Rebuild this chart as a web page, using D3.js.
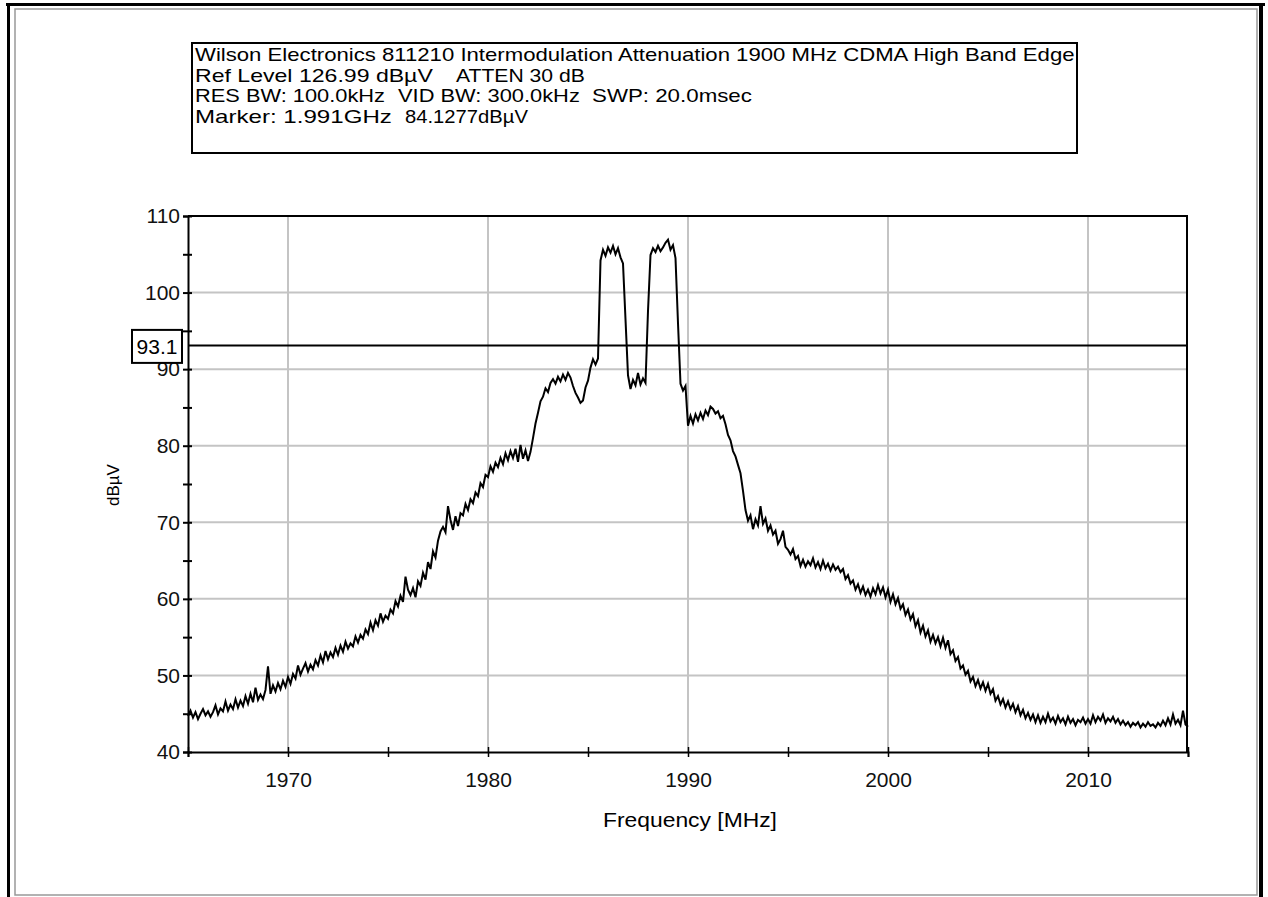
<!DOCTYPE html>
<html>
<head>
<meta charset="utf-8">
<script src="https://cdn.jsdelivr.net/npm/d3@7"></script>
<style>
  body { margin: 0; background: #fff; }
  svg { display: block; font-family: "Liberation Sans", Arial, sans-serif; }
</style>
</head>
<body>
<div id="chart"></div>
<script>
// analyzer header, one list of pieces per line
var header_lines = [
    ["Wilson Electronics 811210 Intermodulation Attenuation 1900 MHz CDMA High Band Edge"],
    ["Ref Level 126.99 dB\u00b5V", "ATTEN 30 dB"],
    ["RES BW: 100.0kHz", "VID BW: 300.0kHz", "SWP: 20.0msec"],
    ["Marker: 1.991GHz", "84.1277dB\u00b5V"]
]

var freq_start = 1965      // MHz, first sweep point
var freq_step = 0.125      // MHz between sweep points (401 point sweep)
var freq_ticks = [1965, 1970, 1975, 1980, 1985, 1990, 1995, 2000, 2005, 2010, 2015]
var level_ticks = [40, 45, 50, 55, 60, 65, 70, 75, 80, 85, 90, 95, 100, 105, 110]
var display_line = 93.1

// trace, dBuV
var level = [
    44.7, 45.4, 44.5, 45.2, 44.3, 45.0, 45.6, 44.8, 45.3, 44.6,
    45.2, 46.1, 44.9, 45.7, 45.3, 46.6, 45.4, 46.2, 45.6, 46.9,
    45.8, 46.7, 46.0, 47.3, 46.3, 47.6, 46.5, 48.4, 46.8, 47.5,
    46.9, 48.1, 51.2, 47.6, 48.7, 47.9, 49.0, 48.2, 49.3, 48.5,
    49.8, 48.9, 50.2, 49.6, 51.3, 50.1, 50.9, 51.6, 50.5, 51.4,
    50.8, 52.0, 51.3, 52.6, 51.7, 53.2, 52.1, 53.0, 52.4, 53.6,
    52.7, 53.9, 53.1, 54.4, 53.5, 54.2, 53.8, 55.1, 54.3, 55.3,
    54.8, 56.0, 55.4, 56.9, 55.9, 57.2, 56.5, 58.1, 57.0, 57.8,
    57.4, 58.6, 58.1, 59.7, 59.0, 60.4, 59.6, 62.9, 61.2, 60.5,
    61.4, 60.2, 62.3, 61.7, 63.4, 62.5, 64.8, 63.9, 66.2, 65.4,
    67.6, 68.8, 69.4, 68.7, 72.1, 70.3, 69.0, 70.8, 69.5, 71.2,
    70.9, 72.4, 71.6, 73.0, 72.5, 73.9, 73.4, 75.1, 74.6, 76.2,
    75.9, 77.3, 76.6, 77.8, 77.2, 78.4, 77.6, 79.0, 78.1, 79.3,
    78.4, 79.6, 77.9, 80.1, 78.3, 79.4, 78.0, 79.2, 81.0, 82.9,
    84.3, 85.8, 86.4, 87.5, 87.0, 88.2, 88.7, 88.1, 89.0, 88.4,
    89.3, 88.6, 89.5, 88.9, 87.8, 86.9, 86.3, 85.6, 85.9, 87.6,
    88.5, 90.2, 91.3, 90.6, 91.4, 104.2, 105.6, 104.8, 105.9, 105.2,
    106.1, 105.0, 105.8, 104.6, 103.8, 96.5, 89.2, 87.4, 88.6, 87.9,
    89.5, 88.0, 88.8, 88.2, 97.6, 104.9, 105.8, 105.3, 106.1, 105.4,
    105.9, 106.5, 106.9, 105.6, 106.2, 104.5, 96.0, 88.1, 87.2, 87.8,
    82.6, 83.9, 82.9, 84.1, 83.3, 84.3, 83.5, 84.6, 84.0, 85.1,
    84.8, 84.2, 84.5, 83.6, 83.9, 82.8, 81.4, 80.7, 79.3, 78.6,
    77.5, 76.4, 74.1, 71.6, 70.2, 70.9, 69.1, 70.4, 69.6, 72.1,
    69.8, 70.5, 68.9, 69.6, 68.4, 68.9, 67.2, 67.8, 68.9, 66.8,
    66.4, 65.8, 66.5, 65.2, 65.6, 64.3, 65.1, 64.2, 64.9, 64.4,
    65.3, 64.1, 64.8, 63.9, 65.0, 64.0, 64.6, 63.7, 64.5, 63.8,
    64.2, 63.5, 63.9, 62.6, 63.1, 62.0, 62.4, 61.2, 61.9, 60.8,
    61.6, 60.5, 61.2, 60.3, 61.4, 60.6, 61.8, 60.7, 61.5, 60.2,
    61.2, 59.6, 60.6, 59.3, 60.1, 58.7, 59.3, 57.9, 58.6, 57.3,
    58.0, 56.4, 57.2, 55.6, 56.5, 55.1, 55.9, 54.4, 55.3, 54.2,
    55.0, 53.8, 54.9, 53.6, 54.6, 52.8, 53.3, 51.9, 52.4, 50.9,
    51.3, 50.1, 50.6, 49.2, 49.8, 48.6, 49.4, 48.3, 49.1, 48.0,
    48.9, 47.6, 48.2, 46.7, 47.3, 46.2, 46.9, 45.8, 46.6, 45.6,
    46.3, 45.2, 46.0, 44.8, 45.5, 44.4, 45.1, 44.2, 44.9, 43.9,
    44.8, 43.8, 44.6, 43.9, 45.0, 44.0, 44.5, 43.7, 44.7, 43.9,
    44.4, 43.6, 44.6, 43.8, 44.3, 43.5, 44.2, 43.9, 44.5, 43.7,
    44.3, 43.7, 44.8, 43.9, 44.6, 44.1, 44.9, 43.8, 44.4, 44.0,
    44.6, 43.8, 44.3, 43.6, 44.1, 43.5, 43.9, 43.3, 43.8, 43.5,
    43.9, 43.2, 43.7, 43.3, 43.9, 43.4, 43.6, 43.2, 43.8, 43.4,
    44.1, 43.5, 44.4, 43.6, 44.9, 43.7, 44.2, 43.5, 45.4, 43.6,
    43.3
]

var W = 1268, H = 897
var plot = { left: 188, right: 1188, top: 216, bottom: 752 }

var svg = d3.select("#chart").append("svg")
    .attr("width", W)
    .attr("height", H)

// stretch a text element sideways so it spans x0..x1 (the source font is wide)
function fit_text(node, x0, x1, y) {
    var w = node.getComputedTextLength()
    d3.select(node)
        .attr("x", 0).attr("y", 0)
        .attr("transform", `translate(${x0}, ${y}) scale(${(x1 - x0) / w}, 1)`)
}

// page frame
svg.append("rect")
    .attr("x", 15).attr("y", 9).attr("width", 1242).attr("height", 886)
    .attr("fill", "none").attr("stroke", "#999").attr("stroke-width", 1.5)
svg.append("line").attr("x1", 6).attr("x2", 1265).attr("y1", 4.5).attr("y2", 4.5)
    .attr("stroke", "#000").attr("stroke-width", 3)
svg.append("line").attr("x1", 8.5).attr("x2", 8.5).attr("y1", 3).attr("y2", H)
    .attr("stroke", "#000").attr("stroke-width", 3)
svg.append("line").attr("x1", 1261).attr("x2", 1261).attr("y1", 3).attr("y2", H)
    .attr("stroke", "#000").attr("stroke-width", 4)

// header box
svg.append("rect")
    .attr("x", 192).attr("y", 43).attr("width", 885).attr("height", 110)
    .attr("fill", "#fff").attr("stroke", "#000").attr("stroke-width", 2)

// left / right edge of each piece of header text
var header_spans = [
    [[195, 1075]],
    [[195, 433], [456, 585]],
    [[195, 385], [398, 580], [592, 752]],
    [[195, 392], [405, 528]]
]
header_lines.forEach(function (pieces, row) {
    svg.append("g").selectAll("text")
        .data(pieces)
        .join("text")
        .attr("font-size", 18)
        .text(function (d) { return d })
        .each(function (d, j) {
            fit_text(this, header_spans[row][j][0], header_spans[row][j][1], 61 + row * 20.7)
        })
})

var x = d3.scaleLinear().domain([1965, 2015]).range([plot.left, plot.right])
var y = d3.scaleLinear().domain([40, 110]).range([plot.bottom, plot.top])

// grid
var grid = svg.append("g").attr("stroke", "#c4c4c4").attr("stroke-width", 2)
grid.selectAll(".vg")
    .data(freq_ticks.filter(function (d) { return d % 10 == 0 && d > 1965 && d < 2015 }))
    .join("line")
    .attr("x1", function (d) { return x(d) }).attr("x2", function (d) { return x(d) })
    .attr("y1", plot.top).attr("y2", plot.bottom)
grid.selectAll(".hg")
    .data(level_ticks.filter(function (d) { return d % 10 == 0 && d > 40 && d < 110 }))
    .join("line")
    .attr("x1", plot.left).attr("x2", plot.right)
    .attr("y1", function (d) { return y(d) }).attr("y2", function (d) { return y(d) })

// plot frame top / right
svg.append("line").attr("x1", plot.left).attr("x2", plot.right).attr("y1", plot.top).attr("y2", plot.top)
    .attr("stroke", "#000").attr("stroke-width", 2)
svg.append("line").attr("x1", plot.right - 1).attr("x2", plot.right - 1).attr("y1", plot.top).attr("y2", plot.bottom)
    .attr("stroke", "#000").attr("stroke-width", 2)

// trace
var line = d3.line()
    .x(function (d, i) { return x(freq_start + i * freq_step) })
    .y(function (d) { return y(d) })

svg.append("path")
    .datum(level)
    .attr("d", line)
    .attr("fill", "none")
    .attr("stroke", "#000")
    .attr("stroke-width", 2)
    .attr("stroke-linejoin", "miter")

// display line
svg.append("line")
    .attr("x1", plot.left).attr("x2", plot.right)
    .attr("y1", y(display_line)).attr("y2", y(display_line))
    .attr("stroke", "#000").attr("stroke-width", 2)

// x axis
var x_axis = svg.append("g")
    .attr("transform", `translate(0, ${plot.bottom})`)
    .call(d3.axisBottom(x).tickValues(freq_ticks).tickSize(5)
        .tickFormat(function (d) { return d % 10 == 0 && d > 1965 && d < 2015 ? d : "" }))
x_axis.select(".domain").attr("stroke-width", 2)
x_axis.selectAll(".tick line").attr("y1", -5).attr("y2", 5).attr("stroke-width", 1.5)
x_axis.selectAll(".tick text")
    .attr("y", 20).attr("dy", "0.71em")
    .attr("font-size", 21).attr("font-family", "Liberation Sans, Arial, sans-serif")
    .attr("fill", "#111")

// y axis
var y_axis = svg.append("g")
    .attr("transform", `translate(${plot.left}, 0)`)
    .call(d3.axisLeft(y).tickValues(level_ticks).tickSize(5)
        .tickFormat(function (d) { return d % 10 == 0 ? d : "" }))
y_axis.select(".domain").attr("stroke-width", 2)
y_axis.selectAll(".tick line").attr("x1", -5).attr("x2", 4).attr("stroke-width", 2)
y_axis.selectAll(".tick text")
    .attr("x", -8)
    .attr("font-size", 21).attr("font-family", "Liberation Sans, Arial, sans-serif")
    .attr("fill", "#111")

// display line label
svg.append("rect")
    .attr("x", 132).attr("y", y(display_line) - 15.5).attr("width", 50).attr("height", 33)
    .attr("fill", "#fff").attr("stroke", "#000").attr("stroke-width", 2)
svg.append("text")
    .attr("x", 157).attr("y", y(display_line) + 9)
    .attr("text-anchor", "middle")
    .attr("font-size", 21)
    .text(display_line)

// axis titles
svg.append("text")
    .attr("font-size", 20)
    .text("Frequency [MHz]")
    .each(function () { fit_text(this, 603, 777, 827) })
svg.append("text")
    .attr("transform", "translate(119, 485) rotate(-90)")
    .attr("text-anchor", "middle")
    .attr("font-size", 17)
    .text("dB\u00b5V")
</script>
</body>
</html>
